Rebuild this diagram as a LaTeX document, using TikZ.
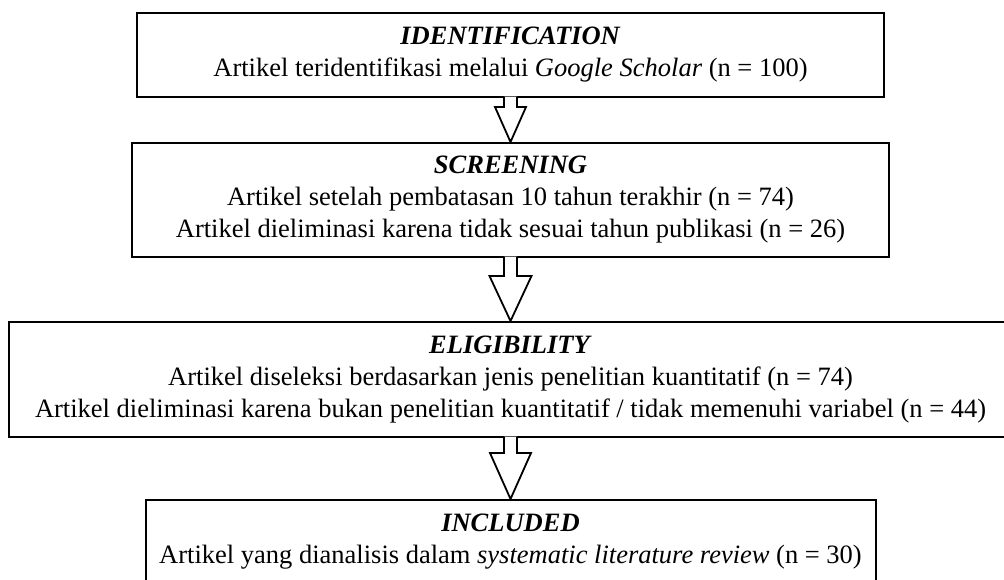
\documentclass[tikz,border=0pt]{standalone}
\usepackage{fontspec}
\setmainfont{Liberation Serif}
\usetikzlibrary{calc}

\tikzset{
  stage/.style={draw, line width=1pt, align=center, inner sep=0pt,
    font=\fontsize{13.25}{16}\selectfont,
    execute at begin node={\rule{0pt}{13.3pt}}},
  blockarrow/.style={draw, line width=0.9pt, fill=white, line join=miter},
}

% hollow block arrow: from node, to node, head half width, head length
\newcommand{\flowarrow}[4]{%
  \coordinate (tip) at (#2.north);
  \coordinate (root) at (tip |- #1.south);
  \draw[blockarrow] ($(root)+(-6.5,-1.5)$) -- ($(tip)+(-6.5,-#4)$)
    -- ($(tip)+(-#3,-#4)$) -- (tip) -- ($(tip)+(#3,-#4)$)
    -- ($(tip)+(6.5,-#4)$) -- ($(root)+(6.5,-1.5)$);
}

\begin{document}
\begin{tikzpicture}[x=0.5pt, y=-0.5pt]
  \useasboundingbox (0,0) rectangle (1004,579);
  \clip (0,0) rectangle (1004,579);
  \node[stage, minimum width=373.5pt, minimum height=42pt] (ident) at (510.5,55)
    {\textbf{\textit{IDENTIFICATION}}\\
     Artikel teridentifikasi melalui \textit{Google Scholar} (n = 100)};
  \node[stage, minimum width=378.5pt, minimum height=57pt] (screen) at (510.5,200)
    {\textbf{\textit{SCREENING}}\\
     Artikel setelah pembatasan 10 tahun terakhir (n = 74)\\
     Artikel dieliminasi karena tidak sesuai tahun publikasi (n = 26)};
  \node[stage, minimum width=501.5pt, minimum height=57.5pt] (elig) at (510.5,379.5)
    {\textbf{\textit{ELIGIBILITY}}\\
     Artikel diseleksi berdasarkan jenis penelitian kuantitatif (n = 74)\\
     Artikel dieliminasi karena bukan penelitian kuantitatif / tidak memenuhi variabel (n = 44)};
  \node[stage, minimum width=365pt, minimum height=42pt] (incl) at (510.5,542)
    {\textbf{\textit{INCLUDED}}\\
     Artikel yang dianalisis dalam \textit{systematic literature review} (n = 30)};
  \flowarrow{ident}{screen}{15.5}{35}
  \flowarrow{screen}{elig}{21}{45}
  \flowarrow{elig}{incl}{20.5}{46}
\end{tikzpicture}
\end{document}
